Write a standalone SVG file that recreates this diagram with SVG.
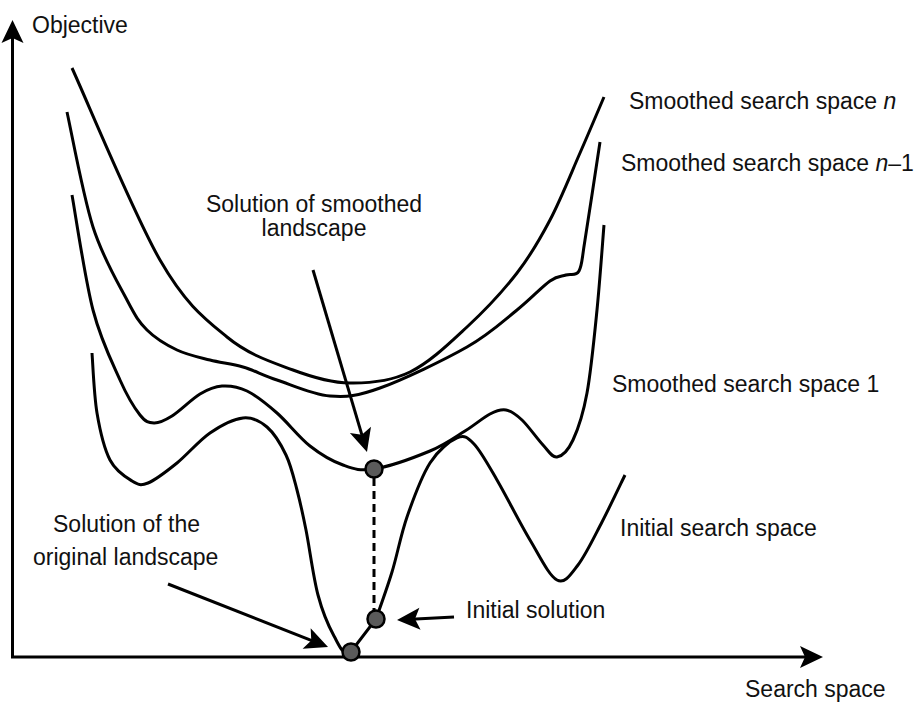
<svg xmlns="http://www.w3.org/2000/svg" width="914" height="703" viewBox="0 0 914 703">
<style>
.cv{fill:none;stroke:#000;stroke-width:3;stroke-linecap:butt}
.ar{fill:none;stroke:#000;stroke-width:3;marker-end:url(#ah)}
.dot{fill:#5a5a5a;stroke:#000;stroke-width:2.5}
.dash{fill:none;stroke:#000;stroke-width:3;stroke-dasharray:8 5}
text{font-family:"Liberation Sans",Arial,sans-serif;font-size:23px;fill:#111}
</style>
<defs>
<marker id="ah" viewBox="-24 -12 26 24" refX="-14" refY="0" markerWidth="26" markerHeight="24" markerUnits="userSpaceOnUse" orient="auto">
<path d="M0,0 L-23,-11 L-18,0 L-23,11 Z" fill="#000"/>
</marker>
</defs>
<rect width="914" height="703" fill="#fff"/>
<g id="axes">
<line class="ar" x1="12.5" y1="658" x2="12.5" y2="34"/>
<line class="ar" x1="11" y1="657" x2="809" y2="657"/>
</g>
<g id="curve-n">
<path class="cv" d="M72,68 C86.7,100 134.2,215.2 160,260 S204.8,318.7 227,337 S272.5,362.3 293,370 S330.5,382.7 350,383 S390.5,381.3 410,372 S449.2,343.5 467,327 S503.2,290.8 517,273 S539.5,240 550,220 S571,173.5 580,153 S600,106.3 604,97"/>
</g>
<g id="curve-n-1">
<path class="cv" d="M67,112 C71.3,131.2 83,195.7 93,227 S118,282.8 127,300 S138.7,321.7 147,330 S166.5,345 177,350 S199,357.2 210,360 S231.8,363.7 243,367 S262.5,375.2 277,380 S312.8,394.7 330,396 S357.2,396.2 380,388 S444.2,360 467,347 S503.2,321 517,310 S541.8,286.8 550,281 S561.2,276.7 566,275 S575.8,276.8 579,271 S581.5,261.5 585,240 S597.5,158.3 600,142"/>
</g>
<g id="curve-1">
<path class="cv" d="M72,195 C75.5,214.2 85,279.2 93,310 S112.2,362.5 120,380 S134.3,407.8 140,415 S148.7,422.8 154,423 S164.3,420.8 172,416 S191.7,399 200,394 S214.2,386.5 222,386 S237.8,386.5 247,391 S266.5,403.8 277,413 S299,437.3 310,446 S332.3,461.2 343,465 S359.5,471.3 374,469 S414.8,457.3 430,451 S455,437.2 465,431 S483.2,417.5 490,414 S500.7,409 506,410 S515.8,414.2 522,420 S537.2,438.8 543,445 S552,457.8 557,457 S568,450.7 573,440 S583,414.7 587,393 S594.2,338 597,310 S602.8,239.2 604,225"/>
</g>
<g id="curve-initial">
<path class="cv" d="M92,353 C92.8,363 94,395.2 97,413 S104.2,448.7 110,460 S125.7,477.2 132,481 S140.5,486 148,483 S166.7,471.3 177,463 S199,440.5 210,433 S233.5,419 243,418 S259.8,420.8 267,427 S281,444.5 286,455 S293.7,477.5 297,490 S302.5,512.5 306,530 S313.3,577.3 318,595 S328.7,626.3 334,636 S343,655.8 350,653 L376,619 C378.7,611.2 386.8,589 392,572 S400.7,535.2 407,517 S421.7,476.2 430,463 S449.7,441.2 457,438 S467.3,437 474,444 S487.7,464 497,480 S520,523.3 530,540 S549,575.8 557,580 S570.5,574.7 578,565 S594.2,537 602,522 S621.2,482.8 625,475"/>
</g>
<g id="dashed-link">
<line class="dash" x1="374" y1="478" x2="374" y2="611"/>
</g>
<g id="sol-smoothed-dot"><circle class="dot" cx="374" cy="469" r="8.5"/></g>
<g id="initial-solution-dot"><circle class="dot" cx="376" cy="619" r="8.5"/></g>
<g id="sol-original-dot"><circle class="dot" cx="351" cy="652" r="8.5"/></g>
<g id="connectors">
<line class="ar" x1="313" y1="270" x2="363" y2="438.6"/>
<line class="ar" x1="168" y1="584" x2="315" y2="641.9"/>
<line class="ar" x1="454" y1="617" x2="411" y2="619.3"/>
</g>
<g id="labels">
<text x="32" y="33">Objective</text>
<text x="745" y="697">Search space</text>
<text x="629" y="109">Smoothed search space <tspan font-style="italic">n</tspan></text>
<text x="621" y="171">Smoothed search space <tspan font-style="italic">n</tspan>–1</text>
<text x="612" y="392">Smoothed search space 1</text>
<text x="620" y="536">Initial search space</text>
<text x="466" y="618">Initial solution</text>
<text x="314" y="212" text-anchor="middle">Solution of smoothed</text>
<text x="314" y="236" text-anchor="middle">landscape</text>
<text x="53" y="532">Solution of the</text>
<text x="33" y="565">original landscape</text>
</g>
</svg>
